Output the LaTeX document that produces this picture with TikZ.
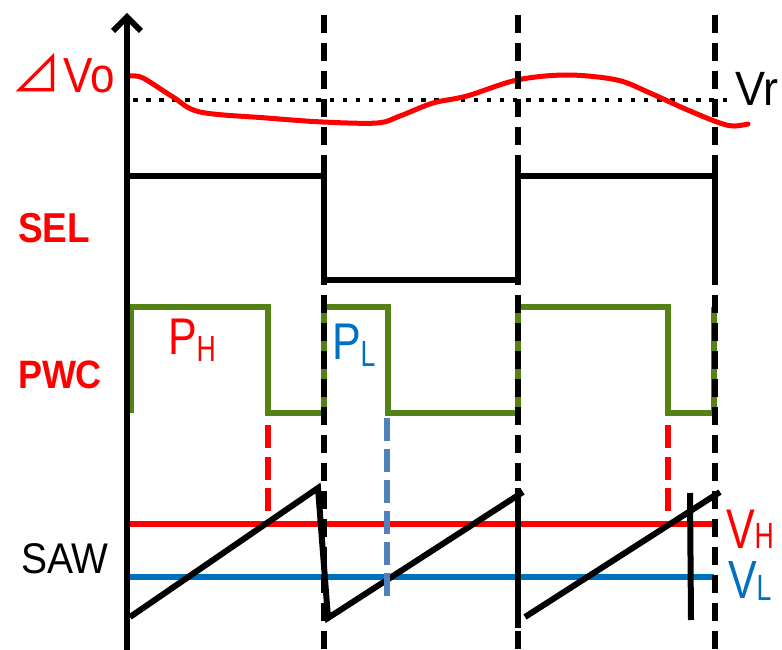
\documentclass[tikz,border=0pt]{standalone}
\usepackage{fontspec}
\setmainfont{Liberation Sans}
\newfontfamily\cjkjp{Noto Sans CJK JP}
\definecolor{pwcgreen}{RGB}{84,130,20}
\definecolor{vlblue}{RGB}{0,112,192}
\definecolor{dblue}{RGB}{79,129,189}
\newcommand{\fs}[1]{\fontsize{#1}{#1}\selectfont}
\tikzset{
  lbl/.style={anchor=base west, inner sep=0pt, outer sep=0pt},
  sig/.style={line width=6, line join=miter},
  guide/.style={line width=6, dash pattern=on 18 off 10},
  mark red/.style={red, line width=6, dash pattern=on 23 off 8.5},
  mark blue/.style={dblue, line width=6, dash pattern=on 23 off 8},
}
\begin{document}
\begin{tikzpicture}[x=1pt,y=-1pt]
\useasboundingbox (0,0) rectangle (782,650);

% ---- labels
\node[lbl, text=red] (dvo) at (12,93) {{\fs{50}\cjkjp ⊿}\hspace{2pt}\scalebox{1}[1.12]{\fs{44}Vo}};
\node[lbl] (vr) at (735,106) {\scalebox{1}[1.07]{\fs{45}Vr}};
\node[lbl, text=red] (sel) at (18,242) {\scalebox{1}[1.13]{\fs{37}\bfseries SEL}};
\node[lbl, text=red] (pwc) at (18,388) {\scalebox{1}[1.1]{\fs{36}\bfseries PWC}};
\node[lbl] (saw) at (21,573) {\scalebox{1}[1.1]{\fs{39}SAW}};
\node[lbl, text=red] (ph) at (168,354) {\scalebox{1}[1.2]{\fs{43}P}\raisebox{-7pt}{\scalebox{0.95}[1.3]{\fs{28}H}}};
\node[lbl, text=vlblue] (pl) at (332,359) {\scalebox{1}[1.2]{\fs{43}P}\raisebox{-7pt}{\scalebox{0.95}[1.3]{\fs{28}L}}};
\node[lbl, text=red] (vh) at (726,548) {\scalebox{1}[1.3]{\fs{43}V}\scalebox{0.95}[1.3]{\fs{28}H}};
\node[lbl, text=vlblue] (vl) at (728,598) {\scalebox{1}[1.25]{\fs{43}V}\raisebox{-2pt}{\scalebox{0.95}[1.3]{\fs{28}L}}};

% ---- output ripple and reference
\draw[line width=4.5, dash pattern=on 4.5 off 8.6] (133,100) -- (728,100);
\draw[red, line width=5, line cap=round] plot[smooth, tension=0.55] coordinates
  {(130,76) (143,78) (173,97) (200,112) (267,118) (323,122) (377,123) (400,116) (433,103) (467,96) (517,80) (567,75) (617,80) (650,93) (683,108) (717,122) (733,126) (748,124)};

% ---- SEL
\draw[sig] (127,176) -- (324,176) -- (324,280) -- (518,280) -- (518,176) -- (715,176) -- (715,283);

% ---- PWC
\draw[pwcgreen, line width=5.5, line join=miter] (131,413) -- (131,307) -- (268,307) -- (268,413) -- (324,413) -- (324,307)
  -- (388,307) -- (388,413) -- (518,413) -- (518,307) -- (668,307) -- (668,413) -- (714,413) -- (714,307);

% ---- threshold lines
\draw[red, line width=6] (130,524) -- (718,524);
\draw[vlblue, line width=6] (130,577) -- (714,577);

% ---- sawtooth
\draw[sig] (130,617) -- (318,488) -- (328,618) -- (523,492);
\draw[sig] (518,488) -- (518,628);
\draw[sig] (525,617) -- (720,492);
\draw[sig] (690,493) -- (691,620);

% ---- crossing markers
\draw[mark red] (268,425) -- (268,512);
\draw[mark red] (668,425) -- (668,512);
\draw[mark blue] (387,418) -- (387,602);

% ---- period guides
\draw[guide] (324,15) -- (324,650);
\draw[guide] (518,15) -- (518,650);
\draw[guide] (715,15) -- (715,650);

% ---- axis
\draw[line width=6] (127,650) -- (127,17);
\draw[line width=6, line join=miter] (113,31) -- (127,17) -- (141,31);
\end{tikzpicture}
\end{document}
